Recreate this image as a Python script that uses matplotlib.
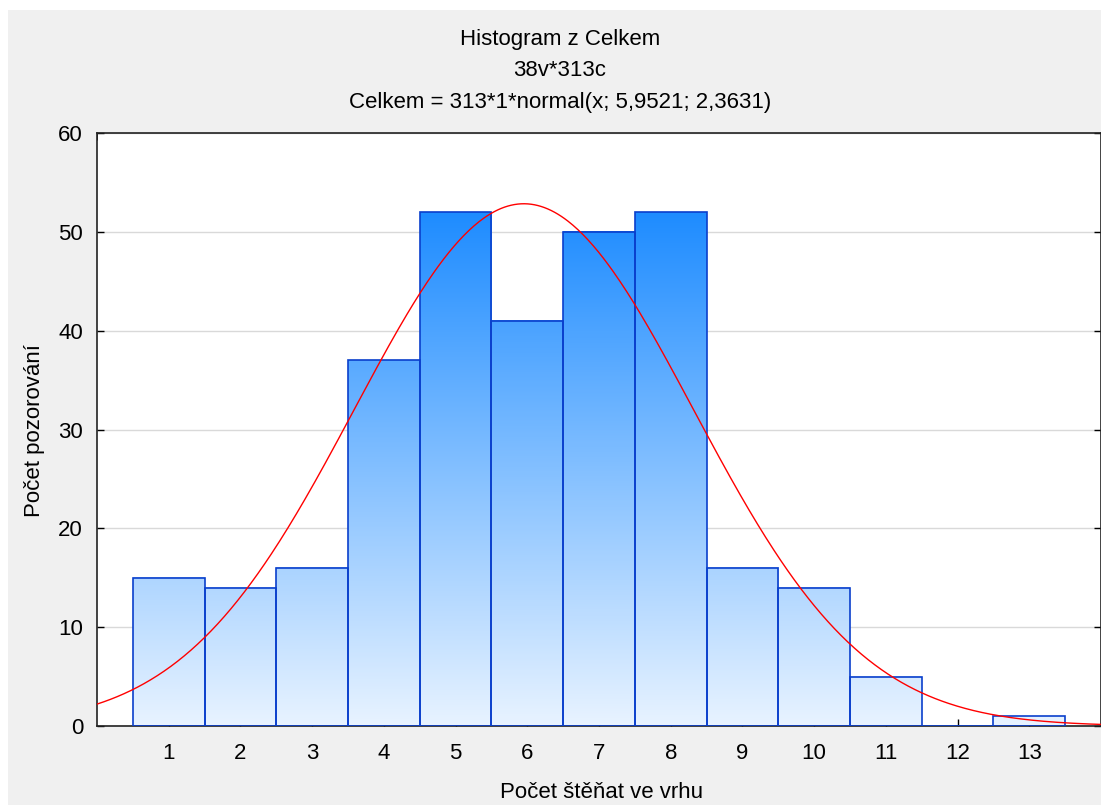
import numpy as np
import matplotlib
matplotlib.use("Agg")
import matplotlib.pyplot as plt
from matplotlib.colors import LinearSegmentedColormap, Normalize
from matplotlib.patches import Rectangle

# ---- data ----
categories = [1, 2, 3, 4, 5, 6, 7, 8, 9, 10, 11, 12, 13]
counts = [15, 14, 16, 37, 52, 41, 50, 52, 16, 14, 5, 0, 1]
n_total = 313
mu = 5.9521
sigma = 2.3631
bin_width = 1
yticks = [0, 10, 20, 30, 40, 50, 60]

title_lines = ["Histogram z Celkem", "38v*313c",
               "Celkem = 313*1*normal(x; 5,9521; 2,3631)"]
xlabel = "Počet štěňat ve vrhu"
ylabel = "Počet pozorování"

plt.rcParams['font.family'] = ['Liberation Sans', 'DejaVu Sans']

fig = plt.figure(figsize=(11.01, 8.05), dpi=100)
fig.patch.set_facecolor('white')
fig.patches.append(Rectangle((8 / 1101, 0), 1, 1 - 10 / 805, transform=fig.transFigure,
                             facecolor='#f0f0f0', edgecolor='none', zorder=-10))

ax = fig.add_axes([97 / 1101, 1 - 726 / 805, 1 - 97 / 1101, (726 - 133) / 805])
ax.set_facecolor('white')

cmap = LinearSegmentedColormap.from_list('grad', ['#e8f3ff', '#1e8cff'])
norm = Normalize(vmin=0, vmax=max(counts))

for c, h in zip(categories, counts):
    if h <= 0:
        continue
    grad = np.linspace(0, h, 256).reshape(-1, 1)
    ax.imshow(grad, cmap=cmap, norm=norm, origin='lower', aspect='auto',
              extent=(c - bin_width / 2, c + bin_width / 2, 0, h), zorder=2,
              interpolation='bilinear')

ax.bar(categories, counts, width=bin_width, fill=False, edgecolor='#0a3fcc',
       linewidth=1.2, zorder=3)

xs = np.linspace(0, 14, 600)
pdf = n_total * bin_width * np.exp(-0.5 * ((xs - mu) / sigma) ** 2) / (sigma * np.sqrt(2 * np.pi))
ax.plot(xs, pdf, color='red', linewidth=1.0, zorder=4)

ax.set_xlim(0, 14)
ax.set_ylim(0, 60)
ax.set_xticks(categories)
ax.set_yticks(yticks)
ax.set_xticks(range(0, 15), minor=True)
ax.grid(axis='y', color='#d9d9d9', linewidth=1, zorder=0)
ax.set_axisbelow(True)
ax.tick_params(axis='both', direction='in', labelsize=16, length=5, width=1,
               top=False, right=True)
ax.tick_params(axis='x', pad=12)
ax.tick_params(axis='y', pad=10)
ax.tick_params(axis='x', which='minor', top=True, bottom=False, direction='in', length=5)
for s in ax.spines.values():
    s.set_color('#222222')
    s.set_linewidth(1.2)

ax.set_xlabel(xlabel, fontsize=16)
ax.set_ylabel(ylabel, fontsize=16)
ax.xaxis.set_label_coords(0.5025, -0.094)
ax.yaxis.set_label_coords(-0.052, 0.499)

for i, t in enumerate(title_lines):
    fig.text(560 / 1101, 1 - (40 + 31 * i) / 805, t, ha='center', va='center', fontsize=16)

fig.savefig('out.png', dpi=100)
